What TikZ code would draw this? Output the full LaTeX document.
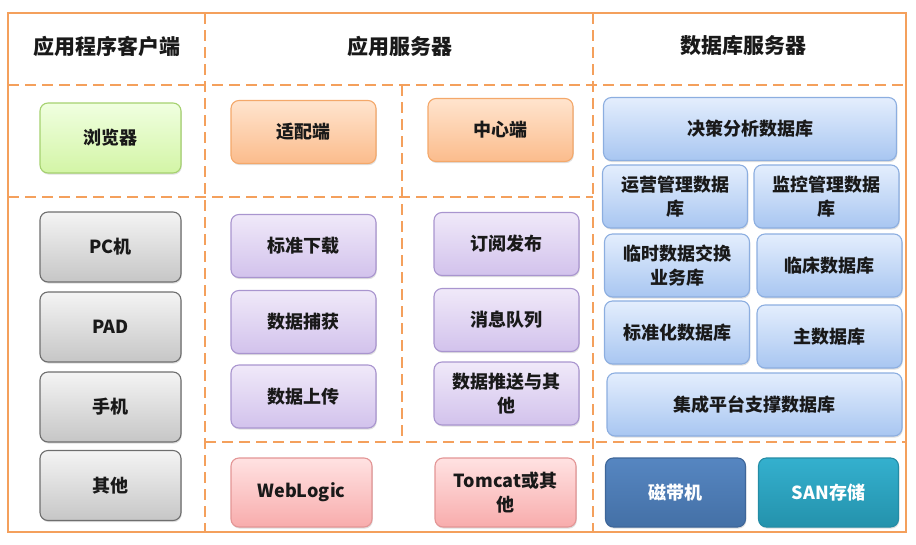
\documentclass[tikz,border=0pt]{standalone}
\usepackage{fontspec}
\setmainfont{Noto Sans CJK SC}
\usepackage{tikz}
\usetikzlibrary{shadows}
\usetikzlibrary{calc}
\definecolor{gridorange}{RGB}{244,160,92}
\definecolor{txtdark}{RGB}{25,25,25}
\tikzstyle{grid} = [draw=gridorange,line width=2.2pt]
\tikzstyle{dashgrid} = [grid,dash pattern=on 11pt off 6pt]
\tikzstyle{header} = [font=\fontsize{21}{24}\selectfont\bfseries,text=txtdark]
\tikzstyle{box} = [rectangle,rounded corners=8pt,line width=1.1pt,align=center,inner sep=2pt,
  font=\fontsize{18}{24}\selectfont\bfseries,text=txtdark,
  drop shadow={shadow xshift=0.8pt,shadow yshift=-1.6pt,opacity=0.25}]
\tikzstyle{client} = [box,minimum width=141pt,minimum height=70pt]
\tikzstyle{appbox} = [box,minimum width=145pt,minimum height=63pt]
\tikzstyle{dbbox} = [box,minimum width=145pt,minimum height=63pt]
\tikzstyle{store} = [box,minimum width=141pt,minimum height=69pt]
\tikzstyle{greenfill} = [draw={rgb,255:red,165;green,209;blue,111},top color={rgb,255:red,240;green,255;blue,224},bottom color={rgb,255:red,211;green,245;blue,166}]
\tikzstyle{grayfill} = [draw={rgb,255:red,110;green,110;blue,110},top color={rgb,255:red,244;green,244;blue,244},bottom color={rgb,255:red,198;green,198;blue,198}]
\tikzstyle{orangefill} = [draw={rgb,255:red,244;green,168;blue,106},top color={rgb,255:red,255;green,228;blue,206},bottom color={rgb,255:red,251;green,188;blue,140}]
\tikzstyle{purplefill} = [draw={rgb,255:red,169;green,149;blue,207},top color={rgb,255:red,240;green,233;blue,249},bottom color={rgb,255:red,210;green,194;blue,236}]
\tikzstyle{pinkfill} = [draw={rgb,255:red,227;green,149;blue,149},top color={rgb,255:red,255;green,226;blue,226},bottom color={rgb,255:red,248;green,172;blue,172}]
\tikzstyle{bluefill} = [draw={rgb,255:red,140;green,174;blue,224},top color={rgb,255:red,228;green,238;blue,253},bottom color={rgb,255:red,168;green,198;blue,241}]
\tikzstyle{tapefill} = [draw={rgb,255:red,62;green,102;blue,153},top color={rgb,255:red,86;green,134;blue,193},bottom color={rgb,255:red,68;green,112;blue,166},text=white]
\tikzstyle{sanfill} = [draw={rgb,255:red,36;green,140;blue,165},top color={rgb,255:red,52;green,176;blue,206},bottom color={rgb,255:red,36;green,146;blue,172},text=white]

\begin{document}
\begin{tikzpicture}[x=1pt,y=-1pt]
    \useasboundingbox (0,0) rectangle (916,544);
    % First we draw the frame and the dashed cells
    \draw[grid] (8,13) rectangle (906,532);
    \path[dashgrid] (8,85) -- (906,85);
    \path[dashgrid] (8,197) -- (593,197);
    \path[dashgrid] (205,442) -- (906,442);
    \path[dashgrid] (205,13) -- (205,532);
    \path[dashgrid] (593,13) -- (593,532);
    \path[dashgrid] (402,85) -- (402,442);

    % Column headers
    \foreach \pos/ \name/ \txt in {{(107,46)/hclient/应用程序客户端},{(400,46)/hserver/应用服务器},{(743,46)/hdb/数据库服务器}}
        \node[header] (\name) at \pos {\txt};

    % Client side
    \node[client,greenfill] (browser) at (110.5,138) {浏览器};
    \foreach \pos/ \name/ \txt in {{(110.5,247)/pc/PC机},{(110.5,327)/pad/PAD},{(110.5,407)/phone/手机},{(110.5,485.5)/other/其他}}
        \node[client,grayfill] (\name) at \pos {\txt};

    % Application server
    \foreach \pos/ \name/ \txt in {{(303.5,132)/adapter/适配端},{(500.5,130)/center/中心端}}
        \node[appbox,orangefill] (\name) at \pos {\txt};

    \foreach \pos/ \name/ \txt in {{(303.5,246)/download/标准下载},{(506.5,244)/subscribe/订阅发布},
        {(303.5,322)/capture/数据捕获},{(506.5,320)/queue/消息队列},
        {(303.5,396.5)/upload/数据上传},{(506.5,393.5)/push/{数据推送与其\\他}}}
        \node[appbox,purplefill] (\name) at \pos {\txt};

    \foreach \pos/ \name/ \txt in {{(301.5,492.5)/weblogic/WebLogic},{(505.5,492.5)/tomcat/{Tomcat或其\\他}}}
        \node[store,pinkfill] (\name) at \pos {\txt};

    % Database server
    \node[dbbox,bluefill,minimum width=293pt] (decision) at (750,129) {决策分析数据库};
    \foreach \pos/ \name/ \txt in {{(675,196.5)/ops/{运营管理数据\\库}},{(826.5,196.5)/monitor/{监控管理数据\\库}},
        {(677,265.5)/exchange/{临时数据交换\\业务库}},{(829.5,265.5)/clinic/临床数据库},
        {(677,332.5)/standard/标准化数据库},{(829.5,336.5)/master/主数据库}}
        \node[dbbox,bluefill] (\name) at \pos {\txt};
    \node[dbbox,bluefill,minimum width=295pt] (platform) at (754.5,404.5) {集成平台支撑数据库};

    \node[store,tapefill,minimum width=140pt] (tape) at (675.5,492.5) {磁带机};
    \node[store,sanfill,minimum width=140pt] (san) at (828.5,492.5) {SAN存储};
\end{tikzpicture}
\end{document}
